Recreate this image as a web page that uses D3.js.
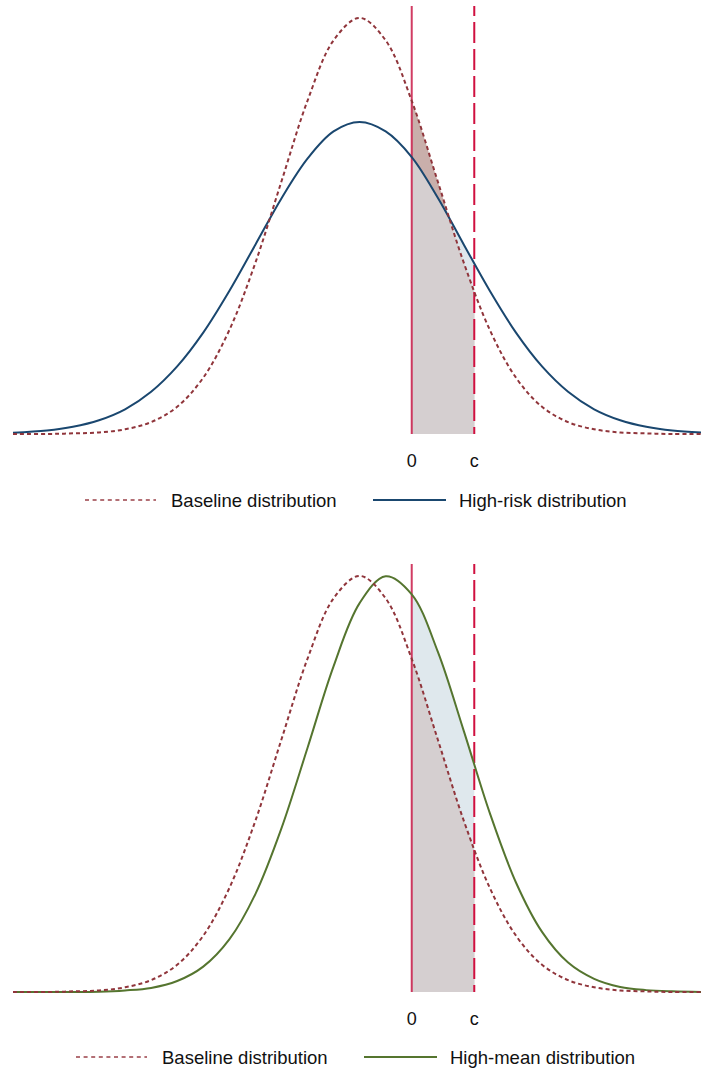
<!DOCTYPE html>
<html>
<head>
<meta charset="utf-8">
<script src="https://cdn.jsdelivr.net/npm/d3@7"></script>
<style>
    body { margin: 0; background: #ffffff; }
    text { font-family: "Liberation Sans", Arial, sans-serif; fill: #111111; }
</style>
</head>
<body>
<div id="chart"></div>
<script>
let xs = [-15.3, -14, -13, -12, -11, -10, -9, -8, -7, -6, -5, -4, -3, -2, -1,
          0, 1, 2, 3, 4, 5, 6, 7, 8, 9, 10, 11.1];

let baseline = [0.0000, 0.0000, 0.0002, 0.0005, 0.0015, 0.0038, 0.0087, 0.0180, 0.0332,
                0.0547, 0.0807, 0.1065, 0.1258, 0.1330, 0.1258, 0.1065, 0.0807, 0.0547,
                0.0332, 0.0180, 0.0087, 0.0038, 0.0015, 0.0005, 0.0002, 0.0000, 0.0000];

let high_risk = [0.0004, 0.0011, 0.0023, 0.0044, 0.0079, 0.0135, 0.0216, 0.0324, 0.0457,
                 0.0605, 0.0753, 0.0880, 0.0967, 0.0997, 0.0967, 0.0885, 0.0755, 0.0605,
                 0.0457, 0.0324, 0.0216, 0.0135, 0.0079, 0.0044, 0.0023, 0.0011, 0.0005];

let high_mean = [0.0000, 0.0000, 0.0000, 0.0001, 0.0005, 0.0013, 0.0035, 0.0081, 0.0168,
                 0.0313, 0.0523, 0.0780, 0.1041, 0.1243, 0.1329, 0.1271, 0.1088, 0.0834,
                 0.0571, 0.0350, 0.0192, 0.0094, 0.0042, 0.0016, 0.0006, 0.0002, 0.0000];

let cutoffs = [{label: "0", x: 0}, {label: "c", x: 2.4}];
let baseline_label = "Baseline distribution";
let panel_labels = ["High-risk distribution", "High-mean distribution"];

let width = 701, height = 1072;

let svg = d3.select("#chart").append("svg")
    .attr("width", width)
    .attr("height", height);

let x = d3.scaleLinear().domain([-15.3, 11.1]).range([13, 701]);

function draw_panel(id, other, other_color, other_label, top, bottom, legend) {
    let y = d3.scaleLinear().domain([0, 0.1368]).range([bottom, top]);
    let g = svg.append("g").attr("id", id);

    let base_pts = xs.map((v, i) => [v, baseline[i]]);
    let other_pts = xs.map((v, i) => [v, other[i]]);

    let line = d3.line()
        .x(d => x(d[0]))
        .y(d => y(d[1]))
        .curve(d3.curveCatmullRom);
    let area = d3.area()
        .x(d => x(d[0]))
        .y0(y(0))
        .y1(d => y(d[1]))
        .curve(d3.curveCatmullRom);

    // clip to the band between 0 and c
    let defs = g.append("defs");
    defs.append("clipPath").attr("id", id + "_band")
        .append("rect")
        .attr("x", x(cutoffs[0].x))
        .attr("y", top)
        .attr("width", x(cutoffs[1].x) - x(cutoffs[0].x))
        .attr("height", bottom - top);
    defs.append("clipPath").attr("id", id + "_under")
        .append("path")
        .attr("d", area(other_pts));

    let band = g.append("g").attr("clip-path", "url(#" + id + "_band)");
    band.append("path").attr("d", area(base_pts)).attr("fill", "#c9afab");
    band.append("path").attr("d", area(other_pts)).attr("fill", "#dfe8ed");
    // where both densities overlap
    band.append("path").attr("d", area(base_pts))
        .attr("clip-path", "url(#" + id + "_under)")
        .attr("fill", "#d5cfd0");

    // vertical reference lines
    g.selectAll(".cut").data(cutoffs).enter().append("line")
        .attr("x1", d => x(d.x)).attr("x2", d => x(d.x))
        .attr("y1", top).attr("y2", bottom)
        .attr("stroke", (d, i) => i == 0 ? "#c91a48" : "#d0103f")
        .attr("stroke-width", 2)
        .attr("stroke-opacity", (d, i) => i == 0 ? 0.85 : 1)
        .attr("stroke-dasharray", (d, i) => i == 0 ? null : "21,6")
        .attr("stroke-dashoffset", 11);

    g.selectAll(".cutlabel").data(cutoffs).enter().append("text")
        .attr("x", d => x(d.x))
        .attr("y", bottom + 27)
        .attr("text-anchor", "middle")
        .attr("dominant-baseline", "central")
        .attr("font-size", 18)
        .text(d => d.label);

    g.append("path").attr("d", line(other_pts))
        .attr("fill", "none")
        .attr("stroke", other_color)
        .attr("stroke-width", 2);
    g.append("path").attr("d", line(base_pts))
        .attr("fill", "none")
        .attr("stroke", "#90353b")
        .attr("stroke-width", 2)
        .attr("stroke-dasharray", "4,3");

    // legend
    let leg = g.append("g").attr("transform", "translate(" + legend.x + "," + legend.y + ")");
    leg.append("line").attr("x1", 0).attr("x2", 71)
        .attr("stroke", "#9a4048").attr("stroke-width", 1.6)
        .attr("stroke-dasharray", "4,3.6");
    leg.append("text").attr("x", 86).attr("y", 0)
        .attr("dominant-baseline", "central").attr("font-size", 18.5)
        .text(baseline_label);
    leg.append("line").attr("x1", 288).attr("x2", 361)
        .attr("stroke", other_color).attr("stroke-width", 2);
    leg.append("text").attr("x", 374).attr("y", 0)
        .attr("dominant-baseline", "central").attr("font-size", 18.5)
        .text(other_label);
}

draw_panel("top", high_risk, "#1a476f", panel_labels[0], 6, 434, {x: 85, y: 500});
draw_panel("bottom", high_mean, "#55752f", panel_labels[1], 564, 992, {x: 76, y: 1057});
</script>
</body>
</html>
